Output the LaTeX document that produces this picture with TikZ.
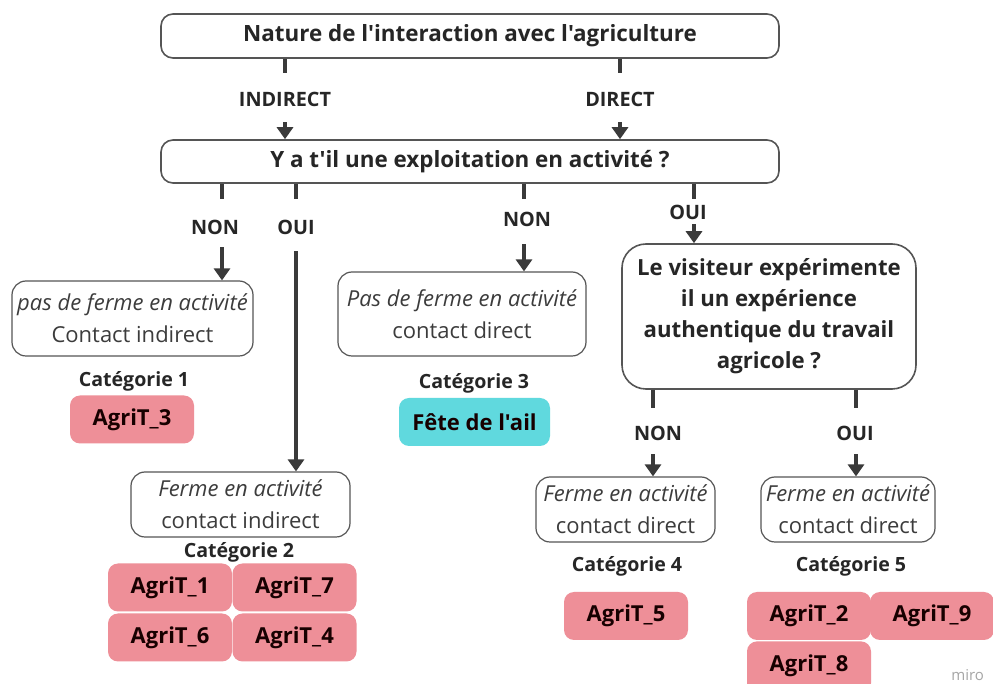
\documentclass[tikz,border=0pt]{standalone}
\usepackage{fontspec}
\setmainfont{Open Sans}[Ligatures=TeXOff]
\usetikzlibrary{arrows.meta}

\definecolor{rose}{HTML}{EE8F98}
\definecolor{turquoise}{HTML}{60D9DE}
\definecolor{trait}{HTML}{3A3A3A}
\definecolor{bord}{HTML}{555555}
\definecolor{encre}{HTML}{262626}

\tikzset{
  question/.style={draw=bord, line width=0.8pt, rounded corners=6pt, text=encre,
    font=\bfseries\fontsize{11.2}{12}\selectfont},
  situation/.style={draw=bord, line width=0.6pt, rounded corners=7pt, align=center,
    text=encre!90, font=\fontsize{11}{16}\selectfont, inner sep=0pt},
  reponse/.style={text=encre, font=\bfseries\fontsize{9.9}{11}\selectfont},
  categorie/.style={text=encre, font=\bfseries\fontsize{9.8}{11}\selectfont},
  agri/.style={fill=rose, rounded corners=5pt, minimum width=62pt, minimum height=24pt,
    text=black!85!red!60!black, font=\bfseries\fontsize{11}{12}\selectfont, inner sep=0pt},
  stub/.style={line width=2pt, draw=trait},
  fleche/.style={line width=2pt, draw=trait, -{Triangle[width=8pt,length=6pt]}},
}

\begin{document}
\begin{tikzpicture}[x=0.5pt, y=-0.5pt]  % ------ arbre des interactions -------------------
  \useasboundingbox (0,0) rectangle (993,684);
  \clip (0,0) rectangle (993,684);
  \fill[white] (0,0) rectangle (993,684);

  % colonnes des traits
  \coordinate (cInd) at (285,0);
  \coordinate (cDir) at (620,0);
  \coordinate (c1) at (222,0);
  \coordinate (c2) at (296,0);
  \coordinate (c3) at (524,0);
  \coordinate (c4) at (694,0);
  \coordinate (c5) at (653,0);
  \coordinate (c6) at (856,0);

  % questions
  \node[question, minimum width=309pt, minimum height=22pt] (nature) at (470,36)
    {Nature de l'interaction avec l'agriculture};
  \node[question, minimum width=309pt, minimum height=21.5pt] (exploit) at (470,161.5)
    {Y a t'il une exploitation en activité ?};
  \node[question, rounded corners=12pt, minimum width=147pt, minimum height=72.5pt,
    align=center, font=\bfseries\fontsize{11.1}{15.5}\selectfont] (visiteur) at (769,316.5)
    {Le visiteur expérimente\\il un expérience\\authentique du travail\\agricole ?};

  % situations
  \node[situation, minimum width=120.5pt, minimum height=37.5pt] (sit1) at (132.5,318.5)
    {\itshape pas de ferme en activité\\Contact indirect};
  \node[situation, minimum width=109.5pt, minimum height=32.5pt] (sit2) at (240.5,504.5)
    {\itshape Ferme en activité\\contact indirect};
  \node[situation, minimum width=124pt, minimum height=42pt] (sit3) at (462,314)
    {\itshape Pas de ferme en activité\\contact direct};
  \node[situation, minimum width=89.5pt, minimum height=32.5pt] (sit4) at (625.5,509.5)
    {\itshape Ferme en activité\\contact direct};
  \node[situation, minimum width=87pt, minimum height=32.5pt] (sit5) at (848,509.5)
    {\itshape Ferme en activité\\contact direct};

  % reponses
  \node[reponse] (ind) at (285,99) {INDIRECT};
  \node[reponse] (dir) at (620,99) {DIRECT};
  \node[reponse] (non1) at (215,227) {NON};
  \node[reponse] (oui1) at (296,227) {OUI};
  \node[reponse] (non2) at (527,219) {NON};
  \node[reponse] (oui2) at (688,212) {OUI};
  \node[reponse] (non3) at (658,433) {NON};
  \node[reponse] (oui3) at (855,433) {OUI};

  % traits
  \draw[stub] (nature.south -| cInd) -- ++(0,14);
  \draw[stub] (nature.south -| cDir) -- ++(0,14);
  \draw[fleche] (exploit.north -| cInd) ++(0,-17) -- (exploit.north -| cInd);
  \draw[fleche] (exploit.north -| cDir) ++(0,-17) -- (exploit.north -| cDir);
  \foreach \c in {c1,c2,c3,c4} \draw[stub] (exploit.south -| \c) -- ++(0,15);
  \draw[fleche] (sit1.north -| c1) ++(0,-33) -- (sit1.north -| c1);
  \draw[fleche] (sit2.north -| c2) ++(0,-220) -- (sit2.north -| c2);
  \draw[fleche] (sit3.north -| c3) ++(0,-27) -- (sit3.north -| c3);
  \draw[fleche] (visiteur.north -| c4) ++(0,-19) -- (visiteur.north -| c4);
  \draw[stub] (visiteur.south -| c5) -- ++(0,18);
  \draw[stub] (visiteur.south -| c6) -- ++(0,18);
  \draw[fleche] (sit4.north -| c5) ++(0,-22) -- (sit4.north -| c5);
  \draw[fleche] (sit5.north -| c6) ++(0,-22) -- (sit5.north -| c6);

  % categories
  \node[categorie] (cat1) at (134,381) {Catégorie 1};
  \node[categorie] (cat2) at (239,552) {Catégorie 2};
  \node[categorie] (cat3) at (474,383) {Catégorie 3};
  \node[categorie] (cat4) at (627,566) {Catégorie 4};
  \node[categorie] (cat5) at (851,566) {Catégorie 5};

  \node[agri] (a3) at (132,419.5) {AgriT\_3};
  \node[agri, fill=turquoise, minimum width=75.5pt] (ail) at (474.5,422) {Fête de l'ail};
  \node[agri] (a1) at (170,587.5) {AgriT\_1};
  \node[agri] (a7) at (294.5,587.5) {AgriT\_7};
  \node[agri] (a6) at (170,637.5) {AgriT\_6};
  \node[agri] (a4) at (294.5,637.5) {AgriT\_4};
  \node[agri] (a5) at (626,616) {AgriT\_5};
  \node[agri] (a2) at (809,616) {AgriT\_2};
  \node[agri] (a9) at (932,616) {AgriT\_9};
  \node[agri, minimum height=26pt, anchor=north, text depth=4pt] (a8) at (809,641) {AgriT\_8};

  \node[anchor=east, text=black!35, font=\fontsize{7.5}{9}\selectfont] (miro) at (991,675) {miro};
\end{tikzpicture}
\end{document}
